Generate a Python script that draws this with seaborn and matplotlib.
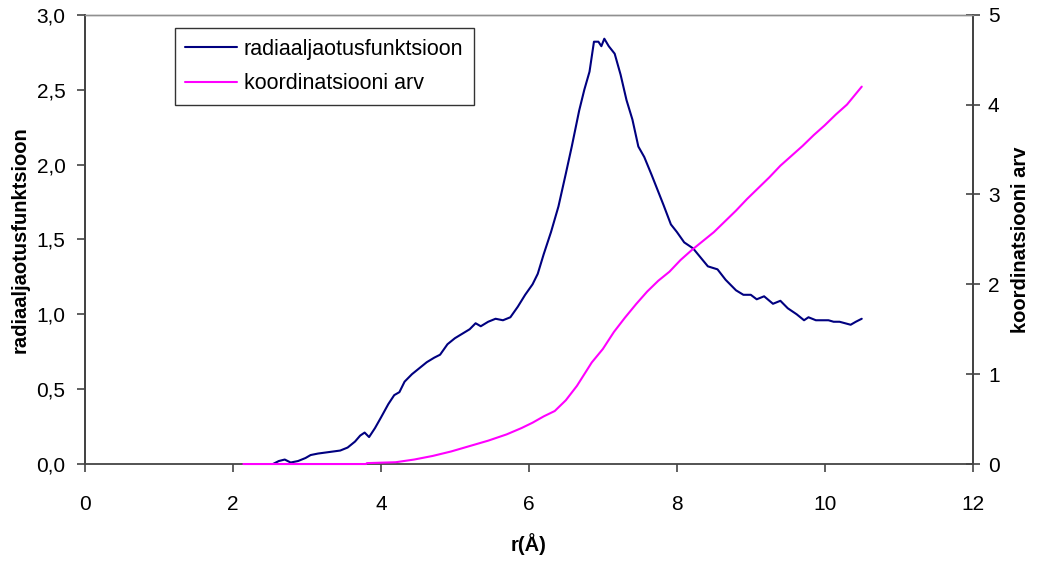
import numpy as np
import pandas as pd
import matplotlib
matplotlib.use('Agg')
import matplotlib.pyplot as plt
from matplotlib.ticker import FuncFormatter
import seaborn as sns

# radial distribution function (left axis)
r_rdf = [2.54, 2.62, 2.70, 2.78, 2.88, 2.98, 3.05, 3.15, 3.30, 3.45, 3.55, 3.65,
         3.72, 3.78, 3.84, 3.92, 4.00, 4.10, 4.18, 4.25, 4.32, 4.42, 4.52, 4.62,
         4.72, 4.80, 4.90, 5.00, 5.10, 5.20, 5.28, 5.35, 5.45, 5.55, 5.65, 5.75,
         5.85, 5.95, 6.05, 6.12, 6.20, 6.30, 6.40, 6.50, 6.58, 6.68, 6.75, 6.82,
         6.88, 6.94, 6.98, 7.02, 7.08, 7.16, 7.24, 7.32, 7.40, 7.48, 7.56, 7.66,
         7.74, 7.82, 7.92, 8.00, 8.10, 8.22, 8.32, 8.42, 8.55, 8.66, 8.80, 8.90,
         9.00, 9.08, 9.18, 9.30, 9.40, 9.50, 9.62, 9.72, 9.78, 9.88, 10.05, 10.12,
         10.20, 10.35, 10.42, 10.50]
g_rdf = [0.00, 0.02, 0.03, 0.01, 0.02, 0.04, 0.06, 0.07, 0.08, 0.09, 0.11, 0.15,
         0.19, 0.21, 0.18, 0.24, 0.31, 0.40, 0.46, 0.48, 0.55, 0.60, 0.64, 0.68,
         0.71, 0.73, 0.80, 0.84, 0.87, 0.90, 0.94, 0.92, 0.95, 0.97, 0.96, 0.98,
         1.05, 1.13, 1.20, 1.27, 1.40, 1.55, 1.72, 1.94, 2.12, 2.36, 2.50, 2.62,
         2.82, 2.82, 2.79, 2.84, 2.79, 2.74, 2.60, 2.43, 2.30, 2.12, 2.05, 1.93,
         1.83, 1.73, 1.60, 1.55, 1.48, 1.44, 1.38, 1.32, 1.30, 1.23, 1.16, 1.13,
         1.13, 1.10, 1.12, 1.07, 1.09, 1.04, 1.00, 0.96, 0.98, 0.96, 0.96, 0.95,
         0.95, 0.93, 0.95, 0.97]

# coordination number (right axis)
r_cn = [2.14, 3.80, 3.81, 4.20, 4.45, 4.70, 4.95, 5.20, 5.45, 5.70, 5.90, 6.05,
        6.20, 6.35, 6.50, 6.65, 6.75, 6.85, 7.00, 7.15, 7.30, 7.45, 7.60, 7.75,
        7.90, 8.05, 8.20, 8.35, 8.50, 8.65, 8.80, 8.95, 9.10, 9.25, 9.40, 9.55,
        9.70, 9.85, 10.00, 10.15, 10.30, 10.50]
n_cn = [0.00, 0.00, 0.01, 0.02, 0.05, 0.09, 0.14, 0.20, 0.26, 0.33, 0.40, 0.46,
        0.53, 0.59, 0.71, 0.87, 1.00, 1.13, 1.28, 1.47, 1.63, 1.78, 1.92, 2.04,
        2.14, 2.27, 2.38, 2.48, 2.58, 2.70, 2.82, 2.95, 3.07, 3.19, 3.32, 3.43,
        3.54, 3.66, 3.77, 3.89, 4.00, 4.20]

df_rdf = pd.DataFrame({'r': r_rdf, 'g': g_rdf})
df_cn = pd.DataFrame({'r': r_cn, 'n': n_cn})

sns.set_style('ticks')
plt.rcParams['font.family'] = ['Liberation Sans', 'DejaVu Sans']
plt.rcParams['text.color'] = 'black'
plt.rcParams['axes.labelcolor'] = 'black'

fig = plt.figure(figsize=(10.38, 5.63), dpi=100)
ax = fig.add_axes([0.0819, 0.1758, 0.8552, 0.798])
ax2 = ax.twinx()

sns.lineplot(data=df_rdf, x='r', y='g', ax=ax, color='#000080', lw=1.5,
             label='radiaaljaotusfunktsioon', legend=False, zorder=3, clip_on=False)
sns.lineplot(data=df_cn, x='r', y='n', ax=ax2, color='#FF00FF', lw=1.5,
             label='koordinatsiooni arv', legend=False, zorder=3, clip_on=False)

ax.set_xlim(0, 12)
ax.set_ylim(0, 3)
ax2.set_ylim(0, 5)
ax.set_xticks(range(0, 13, 2))
ax.set_yticks(np.arange(0, 3.01, 0.5))
ax2.set_yticks(range(0, 6))
ax.yaxis.set_major_formatter(FuncFormatter(lambda v, p: f'{v:.1f}'.replace('.', ',')))

ax.set_xlabel('r(Å)', fontsize=14.5, fontweight='bold', labelpad=14)
ax.set_ylabel('radiaaljaotusfunktsioon', fontsize=14.5, fontweight='bold', labelpad=5)
ax2.set_ylabel('koordinatsiooni arv', fontsize=14.5, fontweight='bold', labelpad=8)

for a in (ax, ax2):
    for s in ('left', 'right', 'bottom'):
        a.spines[s].set_color('#444444')
        a.spines[s].set_linewidth(1.3)
        a.spines[s].set_zorder(2)
    a.spines['top'].set_color('#909090')
    a.spines['top'].set_linewidth(1.0)
ax2.spines['bottom'].set_visible(False)
ax.tick_params(axis='x', labelsize=15, length=6, width=1.2, color='#444444',
               labelcolor='black', pad=16)
ax.tick_params(axis='y', labelsize=15, length=6, width=1.2, color='#444444',
               labelcolor='black', pad=8)
ax2.tick_params(axis='y', labelsize=15, direction='inout', length=10, width=1.2,
                color='#444444', labelcolor='black', pad=6)

h1, l1 = ax.get_legend_handles_labels()
h2, l2 = ax2.get_legend_handles_labels()
leg = ax.legend(h1 + h2, l1 + l2, loc='upper left', bbox_to_anchor=(0.101, 0.970),
                borderaxespad=0, fontsize=15.5, frameon=True, fancybox=False,
                handlelength=2.4, handletextpad=0.3, borderpad=0.5, labelspacing=0.62)
leg.get_frame().set_edgecolor('black')
leg.get_frame().set_linewidth(1.0)

fig.savefig('out.png', dpi=100)
